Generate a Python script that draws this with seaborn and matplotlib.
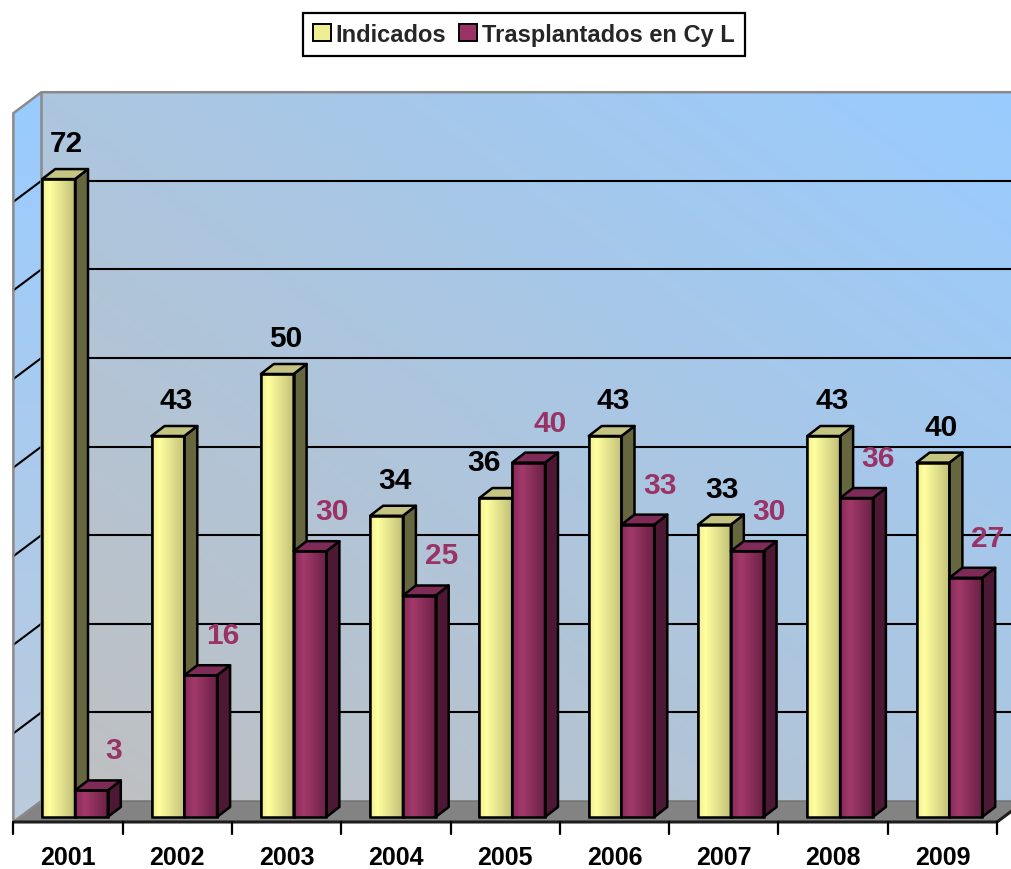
import numpy as np
import pandas as pd
import matplotlib
matplotlib.use("Agg")
import matplotlib.pyplot as plt
import matplotlib.transforms as mtransforms
from matplotlib.patches import Polygon, Rectangle, Patch
from matplotlib.colors import LinearSegmentedColormap, to_rgb
from matplotlib.font_manager import FontProperties
import seaborn as sns

# ---- data -------------------------------------------------------------
years = ["2001", "2002", "2003", "2004", "2005", "2006", "2007", "2008", "2009"]
indicados = [72, 43, 50, 34, 36, 43, 33, 43, 40]
trasplantados = [3, 16, 30, 25, 40, 33, 30, 36, 27]
series = ["Indicados", "Trasplantados en Cy L"]
y_max = 80
y_step = 10

# ---- style ------------------------------------------------------------
sns.set_theme(style="white")
plt.rcParams["font.family"] = ["Liberation Sans", "DejaVu Sans"]

W, H, DPI = 1012, 870, 100
LABEL_MAROON = "#993366"
BAR_LW = 1.8

# pseudo-3D projection offsets (display pixels, y up)
BACK = np.array([21.0, 16.0])    # back wall plane relative to bar fronts
FRONT = np.array([-7.0, -5.0])   # front edge of the floor
DEPTH = np.array([13.0, 10.0])   # depth of each column

fig = plt.figure(figsize=(W / DPI, H / DPI), dpi=DPI)
fig.patch.set_facecolor("white")

# background axes in pixel units for walls and floor
bg = fig.add_axes([0, 0, 1, 1], zorder=0)
bg.set_xlim(0, W)
bg.set_ylim(0, H)
bg.axis("off")

# main axes: the plane of the column front faces
ax = fig.add_axes([20.35 / W, 52 / H, 983.7 / W, 708.8 / H], zorder=1)
ax.set_facecolor("none")

df = pd.DataFrame({
    "year": years * 2,
    "serie": [series[0]] * len(years) + [series[1]] * len(years),
    "valor": indicados + trasplantados,
})
sns.barplot(data=df, x="year", y="valor", hue="serie", order=years,
            hue_order=series, palette=["#f4f494", "#993366"], width=0.6,
            saturation=1, edgecolor="black", linewidth=BAR_LW, legend=False,
            ax=ax)
ax.set_xlim(-0.5, len(years) - 0.5)
ax.set_ylim(0, y_max)
ax.set_axis_off()

ident = mtransforms.IdentityTransform()


def px(x, v, off=(0.0, 0.0)):
    return ax.transData.transform((x, v)) + np.asarray(off)


x_lo, x_hi = -0.5, len(years) - 0.5
b00 = px(x_lo, 0, BACK)
b0t = px(x_lo, y_max, BACK)
f00 = px(x_lo, 0, FRONT)
f0t = px(x_lo, y_max, FRONT)
fr0 = px(x_hi, 0, FRONT)
br0 = px(x_hi, 0, BACK)
RIGHT = W + 5

grey_c = np.array(to_rgb("#c0c0c0"))
blue_c = np.array(to_rgb("#99ccff"))

# back wall with diagonal gradient
wall = Polygon([b00, (RIGHT, b00[1]), (RIGHT, b0t[1]), b0t], closed=True,
               facecolor="none", edgecolor="none", zorder=0.4)
bg.add_patch(wall)
nx, ny = 200, 200
u = np.linspace(0, 1, nx)[None, :]
v = np.linspace(0, 1, ny)[:, None]
t = np.clip((u + v) / 2.0, 0, 1)[..., None]
wall_img = grey_c * (1 - t) + blue_c * t
im = bg.imshow(wall_img, extent=(b00[0], RIGHT, b00[1], b0t[1]), origin="lower",
               aspect="auto", zorder=0.5, interpolation="bilinear")
im.set_clip_path(wall)

# left side wall with vertical gradient
side_wall = Polygon([f00, f0t, b0t, b00], closed=True, facecolor="none",
                    edgecolor="none", zorder=0.4)
bg.add_patch(side_wall)
lv = np.linspace(0, 1, ny)[:, None, None] * np.ones((1, 20, 1))
lw_lo = np.array(to_rgb("#bccadc"))
side_img = lw_lo * (1 - lv) + blue_c * lv
im2 = bg.imshow(side_img, extent=(f00[0], b00[0], f00[1], b0t[1]), origin="lower",
                aspect="auto", zorder=0.5, interpolation="bilinear")
im2.set_clip_path(side_wall)

# floor
bg.add_patch(Polygon([f00, fr0, br0, b00], closed=True, facecolor="#838383",
                     edgecolor="#6e6e6e", lw=1.0, zorder=0.6))

# gridlines on the back wall and side wall
for gv in range(y_step, y_max, y_step):
    gb = px(x_lo, gv, BACK)
    gf = px(x_lo, gv, FRONT)
    bg.plot([gb[0], RIGHT], [gb[1], gb[1]], color="black", lw=1.5, zorder=0.8,
            solid_capstyle="butt")
    bg.plot([gf[0], gb[0]], [gf[1], gb[1]], color="black", lw=1.5, zorder=0.8)

# wall outlines
edge_kw = dict(color="#8a8a8a", lw=1.8, zorder=0.9, solid_capstyle="butt")
bg.plot([f00[0], f0t[0], b0t[0], RIGHT], [f00[1], f0t[1], b0t[1], b0t[1]], **edge_kw)
bg.plot([b0t[0], b00[0]], [b0t[1], b00[1]], **edge_kw)
bg.plot([f00[0], b00[0]], [f00[1], b00[1]], **edge_kw)

# category axis line, floor right edge and tick marks
bg.plot([f00[0], fr0[0], br0[0]], [f00[1], fr0[1], br0[1]], color="#1e1e1e",
        lw=2.2, zorder=1.0, solid_capstyle="butt")
for k in range(len(years) + 1):
    tp = px(k - 0.5, 0, FRONT)
    bg.plot([tp[0], tp[0]], [tp[1], tp[1] - 12], color="black", lw=1.6, zorder=1.0)

# ---- 3D column faces ------------------------------------------------------
ind_cmap = LinearSegmentedColormap.from_list(
    "ind", [(0, "#eeee92"), (0.22, "#ffffa0"), (1, "#c2c078")])
tra_cmap = LinearSegmentedColormap.from_list(
    "tra", [(0, "#88295b"), (0.3, "#a2396a"), (1, "#6a2145")])
specs = [
    dict(cmap=ind_cmap, side="#67673f", top="#c4c483", z=3),
    dict(cmap=tra_cmap, side="#4d1833", top="#7e2b58", z=4),
]
grad = np.linspace(0, 1, 256)[None, :]
for cont, spec in zip(ax.containers, specs):
    for bar in cont.patches:
        x0, w, h = bar.get_x(), bar.get_width(), bar.get_height()
        bar.set_zorder(spec["z"])
        gim = ax.imshow(grad, cmap=spec["cmap"], extent=(x0, x0 + w, 0, h),
                        aspect="auto", zorder=spec["z"] + 0.1,
                        interpolation="bilinear")
        gim.set_clip_path(bar)
        fl, fr = px(x0, 0), px(x0 + w, 0)
        tl, tr = px(x0, h), px(x0 + w, h)
        face_kw = dict(closed=True, transform=ident, edgecolor="black", lw=BAR_LW,
                       zorder=spec["z"] + 0.15, clip_on=False, joinstyle="round")
        ax.add_patch(Polygon([fr, tr, tr + DEPTH, fr + DEPTH],
                             facecolor=spec["side"], **face_kw))
        ax.add_patch(Polygon([tl, tr, tr + DEPTH, tl + DEPTH],
                             facecolor=spec["top"], **face_kw))
        ax.add_patch(Rectangle((x0, 0), w, h, fill=False, edgecolor="black",
                               lw=BAR_LW, zorder=spec["z"] + 0.2, clip_on=False))
ax.set_xlim(-0.5, len(years) - 0.5)
ax.set_ylim(0, y_max)

# ---- value labels -----------------------------------------------------------
ind_bars, tra_bars = ax.containers[0].patches, ax.containers[1].patches
for i, (bi, bt) in enumerate(zip(ind_bars, tra_bars)):
    hi, ht = bi.get_height(), bt.get_height()
    dx_i = -12 if ht > hi else 8
    ax.annotate(f"{hi:.0f}", (bi.get_x() + bi.get_width() / 2, hi),
                xytext=(dx_i, 36), textcoords="offset pixels", ha="center",
                va="center", fontsize=21.5, fontweight="bold", color="black",
                zorder=6, annotation_clip=False)
    ax.annotate(f"{ht:.0f}", (bt.get_x() + bt.get_width() / 2, ht),
                xytext=(22, 40), textcoords="offset pixels", ha="center",
                va="center", fontsize=21.5, fontweight="bold", color=LABEL_MAROON,
                zorder=6, annotation_clip=False)

# year labels under the floor
for i, yr in enumerate(years):
    ax.annotate(yr, (i, 0), xytext=(FRONT[0], FRONT[1] - 35),
                textcoords="offset pixels", ha="center", va="center",
                fontsize=18, fontweight="bold", color="black",
                annotation_clip=False)

# ---- legend -----------------------------------------------------------------
handles = [Patch(facecolor="#eeee92", edgecolor="black", lw=1.4, label=series[0]),
           Patch(facecolor="#993366", edgecolor="black", lw=1.4, label=series[1])]
leg = fig.legend(handles=handles, loc="upper center",
                 bbox_to_anchor=(524 / W, 1 - 14 / H), ncol=2, frameon=True,
                 fancybox=False, edgecolor="black", framealpha=1,
                 borderpad=0.42, handlelength=0.75, handleheight=0.75,
                 handletextpad=0.22, columnspacing=0.55, borderaxespad=0,
                 prop=FontProperties(family=["Liberation Sans", "DejaVu Sans"],
                                     weight="bold", size=17))
leg.get_frame().set_linewidth(1.6)

fig.savefig("out.png", dpi=DPI)
